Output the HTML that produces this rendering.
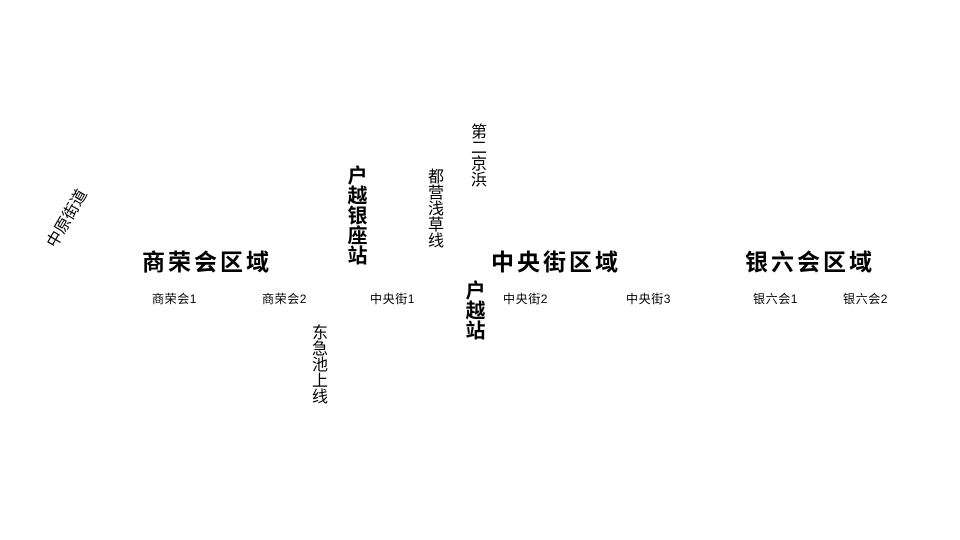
<!DOCTYPE html>
<html><head><meta charset="utf-8"><style>
html,body{margin:0;padding:0;background:#fff;}
body{width:960px;height:540px;position:relative;overflow:hidden;font-family:"Liberation Sans","Noto Sans CJK SC",sans-serif;color:#000;}
.t{position:absolute;white-space:nowrap;line-height:1;}
.big{font-size:23px;font-weight:bold;letter-spacing:3px;}
.sm{font-size:12px;letter-spacing:0.6px;}
.v{writing-mode:vertical-rl;line-height:1;position:absolute;white-space:nowrap;}
</style></head><body>
<div class="t big" style="left:142px;top:251px;">商荣会区域</div>
<div class="t big" style="left:491px;top:251px;">中央街区域</div>
<div class="t big" style="left:745px;top:251px;">银六会区域</div>

<div class="t sm" style="left:152px;top:293px;">商荣会1</div>
<div class="t sm" style="left:262px;top:293px;">商荣会2</div>
<div class="t sm" style="left:370px;top:293px;">中央街1</div>
<div class="t sm" style="left:503px;top:293px;">中央街2</div>
<div class="t sm" style="left:626px;top:293px;">中央街3</div>
<div class="t sm" style="left:753px;top:293px;">银六会1</div>
<div class="t sm" style="left:843px;top:293px;">银六会2</div>

<div class="v" style="left:345px;top:165px;font-size:20px;font-weight:bold;">户越银座站</div>
<div class="v" style="left:425px;top:168px;font-size:16px;">都营浅草线</div>
<div class="v" style="left:468px;top:123px;font-size:16px;">第二京浜</div>
<div class="v" style="left:463px;top:280px;font-size:20px;font-weight:bold;">户越站</div>
<div class="v" style="left:309px;top:324px;font-size:16px;">东急池上线</div>

<div class="t" style="left:36px;top:211px;width:64px;text-align:center;font-size:16px;transform:rotate(-60deg);transform-origin:50% 50%;">中原街道</div>
</body></html>
